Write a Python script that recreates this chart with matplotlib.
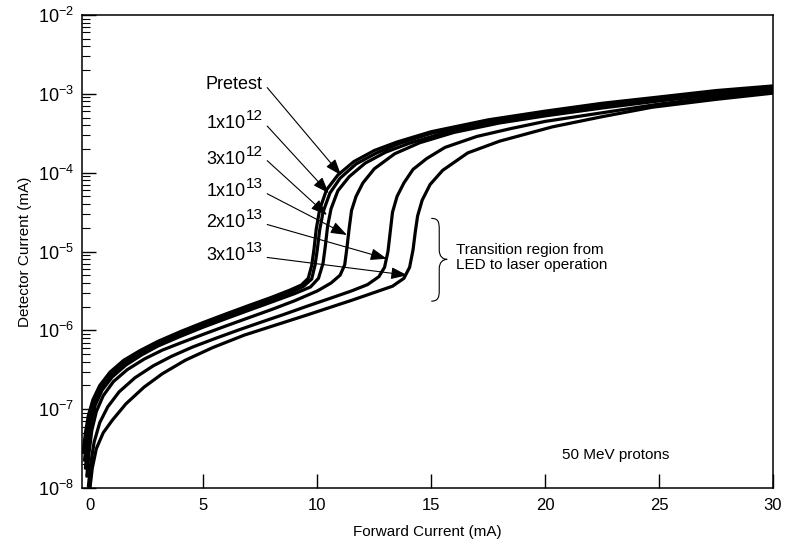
import matplotlib
matplotlib.use("Agg")
import matplotlib.pyplot as plt
from matplotlib.path import Path
from matplotlib.patches import PathPatch
from matplotlib.ticker import LogLocator, FixedLocator, FixedFormatter, NullFormatter

plt.rcParams['font.family'] = ['Liberation Sans', 'DejaVu Sans']
plt.rcParams['mathtext.fontset'] = 'custom'
plt.rcParams['mathtext.rm'] = 'Liberation Sans'
plt.rcParams['mathtext.it'] = 'Liberation Sans:italic'
plt.rcParams['mathtext.default'] = 'regular'

# ---------------- data (forward current mA, detector current mA) ----------------
x_pre = [-0.28, -0.18, -0.05, 0.15, 0.45, 0.9, 1.5, 2.2, 3.0, 4.0, 5.0, 6.0, 7.0, 8.0, 8.8, 9.3, 9.6,
         9.75, 9.85, 9.95, 10.1, 10.4, 10.9, 11.6, 12.5, 13.5, 15.0, 17.5, 20.0, 22.5, 25.0, 27.5, 30.0]
y_pre = [2.82e-8, 5.01e-8, 8.32e-8, 1.32e-7, 2.0e-7, 2.95e-7, 4.17e-7, 5.50e-7, 7.24e-7, 9.66e-7,
         1.26e-6, 1.62e-6, 2.07e-6, 2.63e-6, 3.24e-6, 3.76e-6, 4.57e-6, 6.61e-6, 1.05e-5, 1.91e-5,
         3.39e-5, 6.03e-5, 9.33e-5, 1.38e-4, 1.91e-4, 2.45e-4, 3.31e-4, 4.68e-4, 6.03e-4, 7.59e-4,
         9.12e-4, 1.10e-3, 1.26e-3]

x_1e12 = [-0.22, -0.12, 0.0, 0.2, 0.5, 0.95, 1.5, 2.2, 3.0, 4.0, 5.0, 6.0, 7.0, 8.0, 8.9, 9.4, 9.75,
          9.9, 10.0, 10.1, 10.25, 10.55, 11.0, 11.7, 12.6, 13.6, 15.0, 17.5, 20.0, 22.5, 25.0, 27.5, 30.0]
y_1e12 = [2.24e-8, 4.17e-8, 7.41e-8, 1.20e-7, 1.86e-7, 2.75e-7, 3.80e-7, 5.13e-7, 6.76e-7, 9.02e-7,
          1.17e-6, 1.51e-6, 1.93e-6, 2.45e-6, 3.09e-6, 3.63e-6, 4.47e-6, 6.76e-6, 1.07e-5, 1.86e-5,
          3.16e-5, 5.50e-5, 8.51e-5, 1.29e-4, 1.78e-4, 2.34e-4, 3.16e-4, 4.47e-4, 5.89e-4, 7.41e-4,
          8.91e-4, 1.07e-3, 1.23e-3]

x_3e12 = [-0.18, -0.08, 0.05, 0.25, 0.55, 1.0, 1.6, 2.3, 3.0, 4.0, 5.0, 6.0, 7.0, 8.0, 9.0, 9.7, 10.05,
          10.25, 10.35, 10.45, 10.6, 10.9, 11.4, 12.1, 13.0, 14.0, 15.5, 17.5, 20.0, 22.5, 25.0, 27.5, 30.0]
y_3e12 = [1.78e-8, 3.55e-8, 6.61e-8, 1.12e-7, 1.74e-7, 2.57e-7, 3.63e-7, 4.90e-7, 6.31e-7, 8.41e-7,
          1.10e-6, 1.41e-6, 1.80e-6, 2.29e-6, 2.92e-6, 3.55e-6, 4.57e-6, 7.08e-6, 1.17e-5, 2.09e-5,
          3.47e-5, 5.89e-5, 8.91e-5, 1.32e-4, 1.82e-4, 2.34e-4, 3.16e-4, 4.17e-4, 5.62e-4, 7.08e-4,
          8.71e-4, 1.05e-3, 1.20e-3]

x_1e13 = [-0.12, -0.02, 0.1, 0.3, 0.6, 1.05, 1.65, 2.4, 3.2, 4.0, 5.0, 6.0, 7.0, 8.0, 9.0, 10.0, 10.6,
          11.0, 11.2, 11.3, 11.4, 11.5, 11.7, 12.0, 12.5, 13.4, 14.5, 16.0, 18.0, 20.0, 22.5, 25.0, 27.5, 30.0]
y_1e13 = [1.41e-8, 2.82e-8, 5.37e-8, 9.33e-8, 1.48e-7, 2.24e-7, 3.16e-7, 4.32e-7, 5.62e-7, 6.92e-7,
          8.91e-7, 1.14e-6, 1.45e-6, 1.84e-6, 2.37e-6, 3.16e-6, 3.98e-6, 5.01e-6, 6.76e-6, 1.12e-5,
          2.0e-5, 3.31e-5, 5.01e-5, 7.41e-5, 1.12e-4, 1.74e-4, 2.40e-4, 3.24e-4, 4.27e-4, 5.25e-4,
          6.61e-4, 8.13e-4, 9.77e-4, 1.15e-3]

x_2e13 = [-0.05, 0.05, 0.2, 0.45, 0.8, 1.3, 2.0, 2.8, 3.6, 4.5, 5.5, 6.5, 7.5, 8.5, 9.5, 10.5, 11.5,
          12.2, 12.7, 12.95, 13.1, 13.2, 13.3, 13.5, 13.8, 14.2, 14.8, 15.6, 17.0, 18.5, 20.0, 22.5, 25.0,
          27.5, 30.0]
y_2e13 = [1.05e-8, 2.0e-8, 3.80e-8, 6.76e-8, 1.07e-7, 1.66e-7, 2.51e-7, 3.55e-7, 4.68e-7, 6.10e-7,
          7.85e-7, 1.0e-6, 1.26e-6, 1.58e-6, 2.0e-6, 2.51e-6, 3.16e-6, 3.80e-6, 4.79e-6, 6.31e-6,
          1.0e-5, 1.78e-5, 3.16e-5, 5.01e-5, 7.41e-5, 1.10e-4, 1.51e-4, 2.09e-4, 2.88e-4, 3.63e-4,
          4.47e-4, 5.75e-4, 7.41e-4, 9.12e-4, 1.07e-3]

x_3e13 = [0.02, 0.12, 0.3, 0.6, 1.0, 1.6, 2.4, 3.2, 4.2, 5.4, 6.8, 8.3, 9.5, 10.5, 11.5, 12.5, 13.3,
          13.8, 14.05, 14.2, 14.3, 14.4, 14.6, 14.95, 15.5, 16.6, 18.0, 20.3, 22.5, 24.7, 27.5, 30.0]
y_3e13 = [1.0e-8, 1.78e-8, 3.16e-8, 5.01e-8, 7.24e-8, 1.17e-7, 1.91e-7, 2.82e-7, 4.17e-7, 6.03e-7,
          8.71e-7, 1.20e-6, 1.55e-6, 1.93e-6, 2.40e-6, 3.02e-6, 3.63e-6, 4.57e-6, 6.31e-6, 1.05e-5,
          1.78e-5, 2.82e-5, 4.47e-5, 7.08e-5, 1.07e-4, 1.78e-4, 2.51e-4, 3.80e-4, 5.13e-4, 6.76e-4,
          8.51e-4, 1.02e-3]

label_base = ["Pretest", "1x10", "3x10", "1x10", "2x10", "3x10"]
label_sup = ["", "12", "12", "13", "13", "13"]
label_y = [1.15e-3, 3.55e-4, 1.26e-4, 4.9e-5, 2.0e-5, 7.6e-6]       # text baselines
arrow_start_y = [1.2e-3, 3.9e-4, 1.42e-4, 5.4e-5, 2.2e-5, 8.4e-6]
arrow_tip_x = [11.04, 10.5, 10.42, 11.3, 13.05, 13.95]
arrow_tip_y = [9.3e-5, 5.5e-5, 2.9e-5, 1.62e-5, 8.1e-6, 5.0e-6]

xticks = [0, 5, 10, 15, 20, 25, 30]
yticks = [1e-8, 1e-7, 1e-6, 1e-5, 1e-4, 1e-3, 1e-2]
ytick_labels = ["$10^{-8}$", "$10^{-7}$", "$10^{-6}$", "$10^{-5}$", "$10^{-4}$", "$10^{-3}$", "$10^{-2}$"]

# ---------------- figure ----------------
fig = plt.figure(figsize=(7.85, 5.47), dpi=100)
ax = fig.add_axes([82 / 785, (547 - 488) / 547, (773 - 82) / 785, (488 - 15) / 547])

for xs, ys in [(x_pre, y_pre), (x_1e12, y_1e12), (x_3e12, y_3e12),
               (x_1e13, y_1e13), (x_2e13, y_2e13), (x_3e13, y_3e13)]:
    ax.plot(xs, ys, color='black', lw=2.3, solid_joinstyle='round', solid_capstyle='round', clip_on=True)

ax.set_yscale('log')
ax.set_xlim(-0.33, 30)
ax.set_ylim(1e-8, 1e-2)

ax.xaxis.set_major_locator(FixedLocator(xticks))
ax.set_xticklabels([str(t) for t in xticks])
ax.yaxis.set_major_locator(FixedLocator(yticks))
ax.yaxis.set_major_formatter(FixedFormatter(ytick_labels))
ax.yaxis.set_minor_locator(LogLocator(base=10, subs=[2, 3, 4, 5, 6, 7, 8, 9], numticks=20))
ax.yaxis.set_minor_formatter(NullFormatter())

ax.tick_params(axis='both', which='major', direction='in', length=10, width=1.0,
               top=False, right=False, color='black')
ax.tick_params(axis='x', which='major', labelsize=12, pad=7)
ax.tick_params(axis='y', which='major', labelsize=13, pad=6)
ax.tick_params(axis='y', which='minor', direction='in', length=6, width=0.8, right=False)
ax.tick_params(axis='x', which='minor', bottom=False, top=False)
for s in ax.spines.values():
    s.set_linewidth(1.1)

ax.set_xlabel("Forward Current (mA)", fontsize=11, labelpad=9)
ax.set_ylabel("Detector Current (mA)", fontsize=11, labelpad=4)

for base, sup, ly, ay, tx, ty in zip(label_base, label_sup, label_y, arrow_start_y, arrow_tip_x, arrow_tip_y):
    if sup:
        s_art = ax.annotate(sup, xy=(7.6, ly), xycoords='data', xytext=(0, 6.5), textcoords='offset points',
                            ha='right', va='baseline', fontsize=11)
        ax.annotate(base, xy=(0, 0), xycoords=s_art, xytext=(0, -6.5), textcoords='offset points',
                    ha='right', va='bottom', fontsize=13)
    else:
        ax.text(7.6, ly, base, ha='right', va='baseline', fontsize=13)
    ax.annotate("", xy=(tx, ty), xytext=(7.8, ay),
                arrowprops=dict(arrowstyle='-|>,head_length=0.9,head_width=0.33', mutation_scale=11,
                                color='black', lw=0.8, shrinkA=0, shrinkB=0))

ax.text(16.1, 8.4e-6, "Transition region from\nLED to laser operation", ha='left', va='center',
        fontsize=11, linespacing=1.05)

# curly brace
bx0, bx1, bx2 = 15.0, 15.35, 15.7
verts = [(bx0, 10 ** -4.58), (15.3, 10 ** -4.58), (bx1, 10 ** -4.62), (bx1, 10 ** -4.72),
         (bx1, 10 ** -4.98),
         (bx1, 10 ** -5.06), (15.5, 10 ** -5.1), (bx2, 10 ** -5.1),
         (15.5, 10 ** -5.1), (bx1, 10 ** -5.14), (bx1, 10 ** -5.22),
         (bx1, 10 ** -5.5),
         (bx1, 10 ** -5.58), (15.3, 10 ** -5.63), (bx0, 10 ** -5.63)]
codes = [Path.MOVETO, Path.CURVE4, Path.CURVE4, Path.CURVE4, Path.LINETO,
         Path.CURVE4, Path.CURVE4, Path.CURVE4, Path.CURVE4, Path.CURVE4, Path.CURVE4,
         Path.LINETO, Path.CURVE4, Path.CURVE4, Path.CURVE4]
ax.add_patch(PathPatch(Path(verts, codes), facecolor='none', edgecolor='black', lw=0.8))

ax.text(23.1, 2.6e-8, "50 MeV protons", ha='center', va='center', fontsize=11)

fig.savefig("out.png", dpi=100)
